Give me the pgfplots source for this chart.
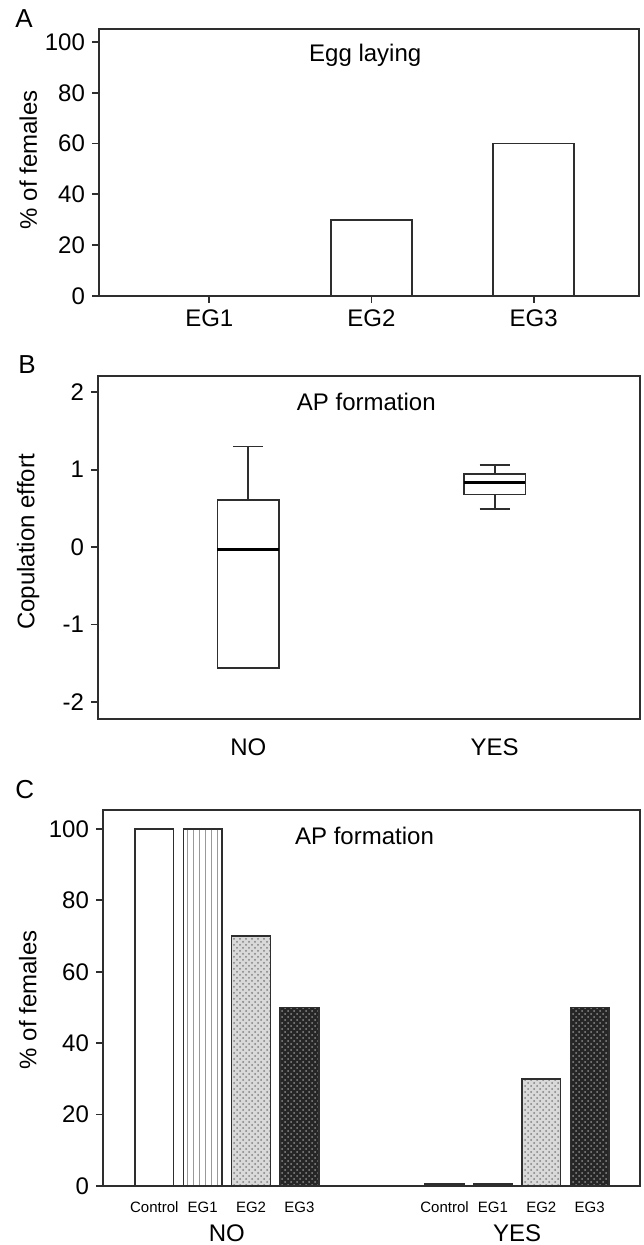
\documentclass[border=0pt]{standalone}
\usepackage{fontspec}
\setmainfont{Liberation Sans}
\usepackage{pgfplots}
\pgfplotsset{compat=1.18}
\usepgfplotslibrary{statistics}
\usetikzlibrary{patterns}
\definecolor{frame}{HTML}{2E2E2E}

\newcommand{\bigf}{\fontsize{12}{14}\selectfont}
\newcommand{\smlf}{\fontsize{7.5}{9}\selectfont}

\pgfplotsset{
  panel/.style={
    scale only axis, anchor=south west,
    axis line style={draw=frame, line width=0.9pt},
    tick style={draw=frame, line width=0.9pt},
    tick align=outside, major tick length=3.5pt,
    tick pos=left,
    /pgf/number format/assume math mode=true,
    tick label style={font=\bigf},
  },
}

\begin{document}
\begin{tikzpicture}
\path[use as bounding box] (0,0) rectangle (321.5pt,-622.5pt);

% ---- A
\begin{axis}[panel, at={(49.5pt,-148pt)}, width=270pt, height=133.5pt,
    xmin=0.32, xmax=3.65, ymin=0, ymax=105.1,
    xtick={1,2,3}, xticklabels={EG1,EG2,EG3},
    ytick={0,20,...,100},
    ylabel={\% of females},
    every axis y label/.style={at={(axis description cs:-0.131,0.51)}, anchor=center, rotate=90, font=\bigf}]
  \addplot[ybar, bar shift=0pt, bar width=0.5, fill=white, draw=frame, line width=0.9pt]
    coordinates {(1,0)(2,30)(3,60)};
  \node[anchor=base, font=\bigf] at (rel axis cs:0.493,0.88) {Egg laying};
\end{axis}

% ---- B
\begin{axis}[panel, at={(49pt,-359.5pt)}, width=271pt, height=171.5pt,
    xmin=0.39, xmax=2.59, ymin=-2.22, ymax=2.21,
    xtick={1,2}, xticklabels={NO,YES},
    xtick style={draw=none},
    xticklabel style={yshift=-3pt},
    ytick={-2,-1,0,1,2},
    ylabel={Copulation effort},
    every axis y label/.style={at={(axis description cs:-0.129,0.516)}, anchor=center, rotate=90, font=\bigf},
    boxplot/draw direction=y]
  \addplot[draw=frame, line width=0.9pt, fill=white,
    boxplot prepared={draw position=1, median=-0.03,
      upper quartile=0.61, lower quartile=-1.56,
      upper whisker=1.30, lower whisker=-1.56,
      box extend=0.25, whisker extend=0.123,
      every median/.style={black, line width=1.6pt}}]
    coordinates {};
  \addplot[draw=frame, line width=0.9pt, fill=white,
    boxplot prepared={draw position=2, median=0.83,
      upper quartile=0.94, lower quartile=0.68,
      upper whisker=1.06, lower whisker=0.49,
      box extend=0.25, whisker extend=0.123,
      every median/.style={black, line width=1.6pt}}]
    coordinates {};
  \node[anchor=base, font=\bigf] at (rel axis cs:0.495,0.898) {AP formation};
\end{axis}

% ---- C
\begin{axis}[panel, at={(51.5pt,-593pt)}, width=268.5pt, height=188pt,
    xmin=-0.06, xmax=11.04, ymin=0, ymax=105.3,
    xtick={1,2,3,4,7,8,9,10},
    xticklabels={Control,EG1,EG2,EG3,Control,EG1,EG2,EG3},
    xtick style={draw=none},
    xticklabel style={font=\smlf, yshift=-1pt},
    ytick={0,20,...,100},
    ylabel={\% of females},
    every axis y label/.style={at={(axis description cs:-0.14,0.495)}, anchor=center, rotate=90, font=\bigf},
    clip=false]
  \addplot[ybar, bar shift=0pt, bar width=0.8, fill=white, draw=frame, line width=0.8pt]
    coordinates {(1,100)(7,0.5)};
  \addplot[ybar, bar shift=0pt, bar width=0.8, fill=white, draw=frame, line width=0.8pt,
    postaction={pattern=vertical lines, pattern color=black!40}]
    coordinates {(2,100)(8,0.5)};
  \addplot[ybar, bar shift=0pt, bar width=0.8, fill=black!15, draw=frame, line width=0.8pt,
    postaction={pattern=crosshatch dots, pattern color=black!50}]
    coordinates {(3,70)(9,30)};
  \addplot[ybar, bar shift=0pt, bar width=0.8, fill=black!85, draw=frame, line width=0.8pt,
    postaction={pattern=crosshatch dots, pattern color=black!45}]
    coordinates {(4,50)(10,50)};
  \node[anchor=base, font=\bigf] at (rel axis cs:0.487,0.907) {AP formation};
  \node[anchor=north, font=\bigf, inner sep=0pt] at (axis cs:2.5,0) [yshift=-19pt] {NO};
  \node[anchor=north, font=\bigf, inner sep=0pt] at (axis cs:8.5,0) [yshift=-19pt] {YES};
\end{axis}

% panel letters
\node[anchor=base west, inner sep=0pt, font=\fontsize{13}{15}\selectfont] at (7.5pt,-14pt) {A};
\node[anchor=base west, inner sep=0pt, font=\fontsize{13}{15}\selectfont] at (9pt,-186.5pt) {B};
\node[anchor=base west, inner sep=0pt, font=\fontsize{13}{15}\selectfont] at (7.5pt,-399pt) {C};
\end{tikzpicture}
\end{document}
